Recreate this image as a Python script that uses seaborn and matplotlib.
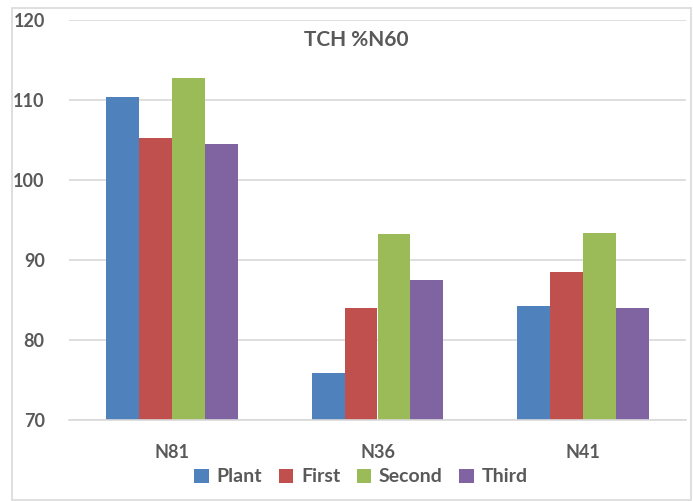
import matplotlib
matplotlib.use("Agg")
import matplotlib.pyplot as plt
import seaborn as sns
import pandas as pd
from matplotlib.patches import Rectangle

categories = ["N81", "N36", "N41"]
series = ["Plant", "First", "Second", "Third"]
plant = [110.4, 75.9, 84.25]
first = [105.25, 84.0, 88.5]
second = [112.75, 93.25, 93.4]
third = [104.5, 87.5, 84.0]
yticks = [70, 80, 90, 100, 110, 120]
colors = ["#4F81BD", "#C0504D", "#9BBB59", "#8064A2"]

rows = []
for s, vals in zip(series, [plant, first, second, third]):
    for c, v in zip(categories, vals):
        rows.append({"cat": c, "series": s, "value": v})
df = pd.DataFrame(rows)

sns.set_style("white")
plt.rcParams["font.family"] = ["Lato", "DejaVu Sans"]
txt = "#595959"
W = "bold"

fig = plt.figure(figsize=(6.93, 5.01), dpi=100)
ax = fig.add_axes([69/693, 81/501, 617/693, 400/501])
sns.barplot(data=df, x="cat", y="value", hue="series", order=categories,
            hue_order=series, palette=colors, width=0.64, ax=ax,
            saturation=1, errorbar=None, edgecolor="none", linewidth=0)

ax.set_ylim(70, 120)
ax.set_yticks(yticks)
ax.set_xlim(-0.5, 2.5)
ax.grid(axis="y", color="#D9D9D9", linewidth=1.2)
ax.set_axisbelow(True)
for sp in ["top", "right", "left"]:
    ax.spines[sp].set_visible(False)
ax.spines["bottom"].set_color("#D9D9D9")
ax.spines["bottom"].set_linewidth(1.2)
ax.set_xlabel("")
ax.set_ylabel("")
ax.tick_params(axis="both", length=0)
ax.tick_params(axis="y", pad=17.5)
ax.tick_params(axis="x", pad=17)
for lab in ax.get_yticklabels() + ax.get_xticklabels():
    lab.set_fontsize(13)
    lab.set_fontweight(W)
    lab.set_color(txt)

ax.text(0.465, 0.95, "TCH %N60", transform=ax.transAxes, ha="center", va="center",
        fontsize=15, fontweight=W, color=txt)

leg = ax.legend(loc="center", bbox_to_anchor=(361/693, 24/501),
                bbox_transform=fig.transFigure, ncol=4, frameon=False,
                handlelength=0.75, handleheight=0.75, handletextpad=0.4,
                columnspacing=0.85, prop={"weight": W, "size": 14})
for t in leg.get_texts():
    t.set_color(txt)

fig.patches.append(Rectangle((12/693, 0.002), 1 - 12/693 - 0.003, 1 - 8/501 - 0.002,
                             transform=fig.transFigure, fill=False,
                             edgecolor="#D9D9D9", linewidth=1.2))

fig.savefig("out.png", dpi=100)
